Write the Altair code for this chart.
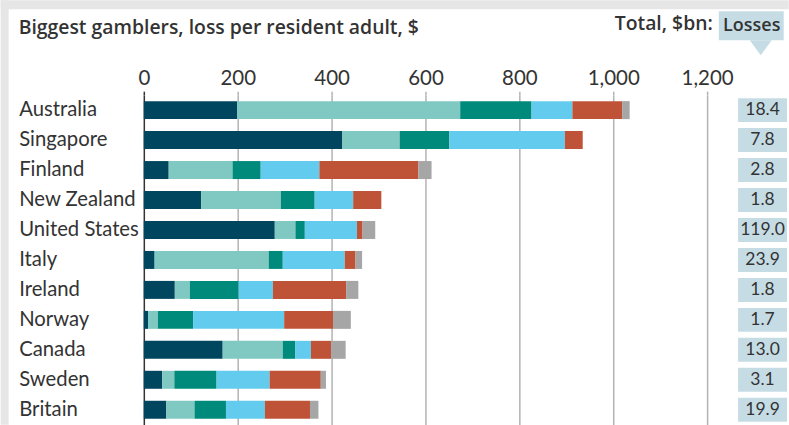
import altair as alt
import pandas as pd

# Loss per resident adult, US$, split by gambling product
countries = ["Australia", "Singapore", "Finland", "New Zealand", "United States",
             "Italy", "Ireland", "Norway", "Canada", "Sweden", "Britain"]
casinos = [199, 423, 53, 122, 279, 23, 66, 9, 168, 39, 48]
machines = [475, 122, 136, 170, 44, 243, 32, 21, 128, 26, 60]
lotteries = [152, 106, 60, 72, 20, 30, 104, 75, 27, 90, 67]
betting = [87, 246, 125, 82, 111, 132, 73, 194, 33, 113, 83]
interactive = [106, 38, 211, 60, 12, 23, 156, 104, 43, 109, 96]
other = [16, 0, 28, 0, 27, 14, 26, 38, 31, 11, 18]

# Total losses, $bn
totals = [18.4, 7.8, 2.8, 1.8, 119.0, 23.9, 1.8, 1.7, 13.0, 3.1, 19.9]

segments = ["Casinos", "Gaming machines", "Lotteries", "Betting", "Interactive", "Other"]
seg_colors = ["#00465e", "#80c9c3", "#008a7c", "#63cbed", "#bf5337", "#a6a6a6"]
series = [casinos, machines, lotteries, betting, interactive, other]

x_ticks = [0, 200, 400, 600, 800, 1000, 1200]
title_text = "Biggest gamblers, loss per resident adult, $"
total_label = "Total, $bn:"
losses_label = "Losses"

rows = []
for ci, c in enumerate(countries):
    for si, s in enumerate(segments):
        rows.append({"country": c, "segment": s, "order": si, "loss": series[si][ci]})
df = pd.DataFrame(rows)
tot_df = pd.DataFrame({"country": countries, "total": totals})
one = pd.DataFrame({"k": [0]})

FONT = "Lato"
HEAD_FONT = "Open Sans"
INK = "#333333"
BOX = "#c6dce5"
FRAME = "#e6e6e6"
W, H = 564, 330

y_scale = alt.Scale(domain=countries, paddingInner=0, paddingOuter=0)

bars = alt.Chart(df).mark_bar(size=18).encode(
    x=alt.X("loss:Q", stack="zero",
            scale=alt.Scale(domain=[0, 1200], nice=False),
            axis=alt.Axis(orient="top", values=x_ticks, format=",.0f", title=None,
                          domain=False, grid=True,
                          gridColor={"condition": {"test": "datum.value === 0", "value": INK},
                                     "value": "#b3b3b3"},
                          gridWidth=1.5,
                          tickColor={"condition": {"test": "datum.value === 0", "value": INK},
                                     "value": "#b3b3b3"},
                          tickWidth=1.5, tickSize=4,
                          labelFont=FONT, labelFontSize=20.5, labelColor=INK,
                          labelPadding=3, labelFlush=False)),
    y=alt.Y("country:N", sort=countries, scale=y_scale,
            axis=alt.Axis(title=None, domain=False, ticks=False, tickSize=0,
                          labelAlign="left", labelPadding=125.3, labelBaseline="middle",
                          labelFont=FONT, labelFontSize=20.3, labelColor=INK)),
    color=alt.Color("segment:N", scale=alt.Scale(domain=segments, range=seg_colors), legend=None),
    order=alt.Order("order:Q"),
)

# grey frame along the top and left edges
frame_left = alt.Chart(one).mark_rect(color=FRAME).encode(
    x=alt.value(-143.3), x2=alt.value(-135.3), y=alt.value(-95), y2=alt.value(H))
frame_top = alt.Chart(one).mark_rect(color=FRAME).encode(
    x=alt.value(-143.3), x2=alt.value(645.7), y=alt.value(-95), y2=alt.value(-86))

title = alt.Chart(pd.DataFrame({"t": [title_text]})).mark_text(
    align="left", baseline="alphabetic", font=HEAD_FONT, fontSize=19.4,
    fontWeight=600, color=INK).encode(
    x=alt.value(-125.3), y=alt.value(-61.7), text="t:N")

left = alt.layer(frame_left, frame_top, bars, title).properties(width=W, height=H)

# right-hand column of totals
boxes = alt.Chart(tot_df).mark_bar(size=24, color=BOX).encode(
    y=alt.Y("country:N", sort=countries, scale=y_scale, axis=None),
    x=alt.value(0), x2=alt.value(49))
values = alt.Chart(tot_df).mark_text(
    font=FONT, fontSize=17.5, color=INK, baseline="middle", align="center").encode(
    y=alt.Y("country:N", sort=countries, scale=y_scale, axis=None),
    x=alt.value(24.5),
    text=alt.Text("total:Q", format=".1f"))

head_box = alt.Chart(one).mark_rect(color=BOX).encode(
    x=alt.value(-19.3), x2=alt.value(45.7), y=alt.value(-84), y2=alt.value(-55))
pointer = alt.Chart(one).mark_point(
    shape="M -1 -0.68 L 1 -0.68 L 0 0.68 Z", size=484, filled=True,
    color=BOX, opacity=1, strokeWidth=0).encode(
    x=alt.value(22.7), y=alt.value(-47.5))
head_text = alt.Chart(pd.DataFrame({"t": [losses_label]})).mark_text(
    font=HEAD_FONT, fontSize=18, fontWeight=600, color=INK,
    align="center", baseline="alphabetic").encode(
    x=alt.value(13.7), y=alt.value(-64.5), text="t:N")
total_text = alt.Chart(pd.DataFrame({"t": [total_label]})).mark_text(
    font=HEAD_FONT, fontSize=19.4, fontWeight=600, color=INK,
    align="right", baseline="alphabetic").encode(
    x=alt.value(-25.3), y=alt.value(-65), text="t:N")

right = alt.layer(boxes, values, head_box, pointer, head_text, total_text).properties(
    width=49, height=H)

chart = alt.hconcat(left, right, spacing=31, bounds="flush").properties(
    padding=0, background="white"
).configure_view(stroke=None)

chart.save("out.html", embed_options={"renderer": "svg", "actions": False})
